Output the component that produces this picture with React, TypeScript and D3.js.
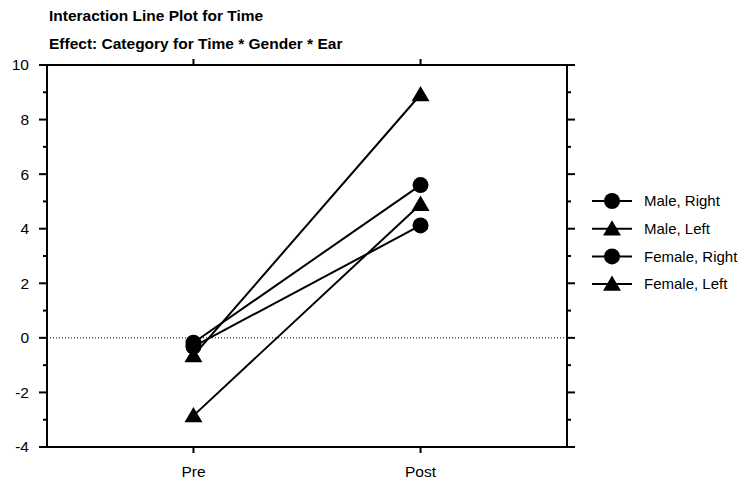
import React from "react";
import * as d3 from "d3";

const categories = ["Pre", "Post"];
const seriesNames = ["Male, Right", "Male, Left", "Female, Right", "Female, Left"];
const seriesShapes = ["circle", "triangle", "circle", "triangle"];
const maleRight = [-0.18, 5.6];
const maleLeft = [-0.65, 8.92];
const femaleRight = [-0.32, 4.12];
const femaleLeft = [-2.85, 4.9];
const seriesValues = [maleRight, maleLeft, femaleRight, femaleLeft];
const yTicks = [-4, -2, 0, 2, 4, 6, 8, 10];
const yMinorTicks = [-3, -1, 1, 3, 5, 7, 9];
const titleLines = ["Interaction Line Plot for Time", "Effect: Category for Time * Gender * Ear"];

const W = 748, H = 484;
const L = 47, R = 567, T = 65, B = 447;

export default function App() {
  const x = d3.scaleLinear().domain([0.355, 2.645]).range([L, R]);
  const y = d3.scaleLinear().domain([-4, 10]).range([B, T]);
  const line = d3.line<number>().x((_, i) => x(i + 1)).y((d) => y(d));
  const triPath = (cx: number, cy: number, s: number) =>
    `M${cx},${cy - s * 0.95}L${cx + s},${cy + s * 0.75}L${cx - s},${cy + s * 0.75}Z`;
  const marker = (shape: string, cx: number, cy: number, key: string) =>
    shape === "circle" ? (
      <circle key={key} cx={cx} cy={cy} r={8} fill="#000" />
    ) : (
      <path key={key} d={triPath(cx, cy, 9)} fill="#000" />
    );
  const font = "'Liberation Sans', Arial, sans-serif";
  return (
    <svg width={W} height={H} style={{ position: "absolute", left: 0, top: 0 }} fontFamily={font}>
      <rect width={W} height={H} fill="#fff" />
      {titleLines.map((t, i) => (
        <text key={t} x={49} y={21 + i * 27.5} fontSize={15.5} fontWeight="bold" fill="#000">
          {t}
        </text>
      ))}
      {/* zero reference line */}
      <line x1={L} x2={R} y1={y(0)} y2={y(0)} stroke="#000" strokeWidth={1} strokeDasharray="1,2" />
      {/* frame */}
      <rect x={L} y={T} width={R - L} height={B - T} fill="none" stroke="#000" strokeWidth={2} />
      {/* y ticks */}
      {yTicks.map((v) => (
        <g key={"yt" + v}>
          <line x1={L - 8} x2={L} y1={y(v)} y2={y(v)} stroke="#000" strokeWidth={2} />
          <line x1={R} x2={R + 8} y1={y(v)} y2={y(v)} stroke="#000" strokeWidth={2} />
          <text x={29} y={y(v)} dy="0.35em" textAnchor="end" fontSize={15.5} fill="#000">
            {v}
          </text>
        </g>
      ))}
      {yMinorTicks.map((v) => (
        <g key={"ym" + v}>
          <line x1={L - 4} x2={L} y1={y(v)} y2={y(v)} stroke="#000" strokeWidth={2} />
          <line x1={R} x2={R + 4} y1={y(v)} y2={y(v)} stroke="#000" strokeWidth={2} />
        </g>
      ))}
      {/* x ticks */}
      {categories.map((c, i) => (
        <g key={c}>
          <line x1={x(i + 1)} x2={x(i + 1)} y1={B} y2={B + 6} stroke="#000" strokeWidth={2} />
          <line x1={x(i + 1)} x2={x(i + 1)} y1={T - 6} y2={T} stroke="#000" strokeWidth={2} />
          <text x={x(i + 1)} y={B + 30} textAnchor="middle" fontSize={15.5} fill="#000">
            {c}
          </text>
        </g>
      ))}
      {/* series */}
      {seriesValues.map((vals, si) => (
        <g key={seriesNames[si]}>
          <path d={line(vals) || ""} fill="none" stroke="#000" strokeWidth={2} />
          {vals.map((v, i) => marker(seriesShapes[si], x(i + 1), y(v), seriesNames[si] + i))}
        </g>
      ))}
      {/* legend */}
      {seriesNames.map((n, i) => {
        const ly = 201 + i * 27.7;
        return (
          <g key={"lg" + n}>
            <line x1={592} x2={632} y1={ly} y2={ly} stroke="#000" strokeWidth={2} />
            {marker(seriesShapes[i], 612, ly, "lm" + i)}
            <text x={644} y={ly} dy="0.35em" fontSize={15} fill="#000">
              {n}
            </text>
          </g>
        );
      })}
    </svg>
  );
}
